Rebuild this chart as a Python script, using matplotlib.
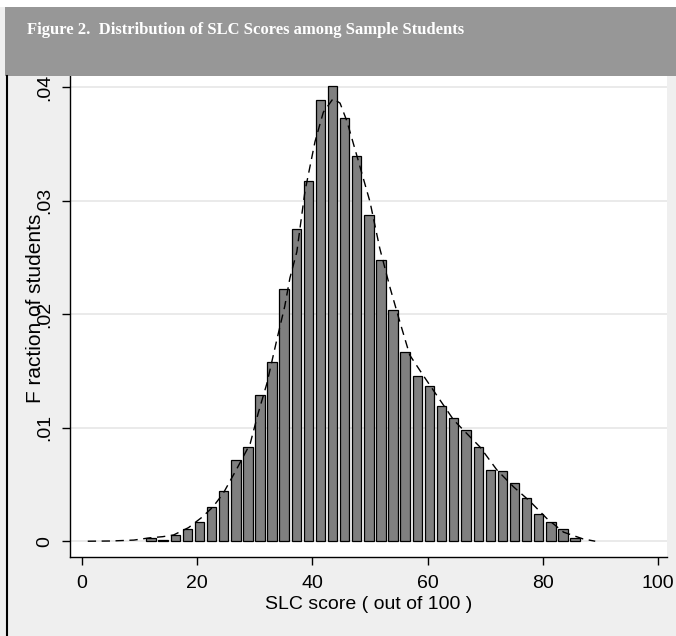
import numpy as np
import matplotlib
matplotlib.use("Agg")
import matplotlib.pyplot as plt
from matplotlib.patches import Rectangle
from matplotlib.lines import Line2D

# histogram bars (bin centre, fraction of students)
bin_centers = [12.0, 14.1, 16.2, 18.3, 20.4, 22.5, 24.6, 26.7, 28.8, 30.9,
               33.0, 35.1, 37.2, 39.3, 41.4, 43.5, 45.6, 47.7, 49.8, 51.9,
               54.0, 56.1, 58.2, 60.3, 62.4, 64.5, 66.7, 68.8, 70.9, 73.0,
               75.1, 77.2, 79.3, 81.4, 83.5, 85.6]
fractions = [0.0003, 0.0001, 0.00055, 0.0011, 0.0017, 0.0030, 0.0044, 0.0072, 0.0083, 0.0129,
             0.0158, 0.0222, 0.0275, 0.0317, 0.0389, 0.0401, 0.0373, 0.0339, 0.0287, 0.0248,
             0.0204, 0.0167, 0.0146, 0.0137, 0.0119, 0.0109, 0.0098, 0.0083, 0.0063, 0.0062,
             0.0051, 0.0038, 0.0024, 0.0017, 0.0011, 0.0003]

# dashed density curve
dens_x = [1, 5, 9, 11.8, 14, 15.9, 18.5, 20.8, 22.7, 24.5, 26.9, 29.2, 30.6, 32.1, 33.8,
          35.2, 36.1, 37.3, 38.7, 40.45, 41.9, 43.6, 44.8, 46.0, 47.7, 50.0, 51.7, 53.5,
          55.2, 56.9, 59.25, 61.8, 64.5, 66.2, 69.1, 72.0, 74.9, 77.8, 80.7, 83.6, 87.0, 89.1]
dens_y = [0, 0.00002, 0.0001, 0.0003, 0.0004, 0.00055, 0.0012, 0.0021, 0.0030, 0.0042,
          0.0064, 0.0086, 0.0113, 0.0139, 0.0177, 0.0207, 0.0232, 0.0255, 0.0308, 0.0352,
          0.0378, 0.0390, 0.0386, 0.0370, 0.0340, 0.0299, 0.0258, 0.0223, 0.0193, 0.0164,
          0.0146, 0.0127, 0.0107, 0.0098, 0.0083, 0.0063, 0.0048, 0.0035, 0.0020, 0.0008,
          0.0002, 0.0]

x_ticks = [0, 20, 40, 60, 80, 100]
y_ticks = [0, 0.01, 0.02, 0.03, 0.04]
y_ticklabels = ["0", ".01", ".02", ".03", ".04"]
title = "Figure 2.  Distribution of SLC Scores among Sample Students"

W, H = 676, 636
fnt = ["Liberation Sans", "DejaVu Sans"]

fig = plt.figure(figsize=(W / 100, H / 100), dpi=100, facecolor="#efefef")

def px(x, y, w, h):
    # pixel box (top-left origin) -> figure fraction
    return [x / W, 1 - (y + h) / H, w / W, h / H]

ax = fig.add_axes(px(70, 60, 597, 497))
ax.set_facecolor("white")

for yt in y_ticks:
    ax.axhline(yt, color="#e6e6e6", lw=1.2, zorder=0)

ax.bar(bin_centers, fractions, width=1.64, color="#808080", edgecolor="black",
       linewidth=0.9, zorder=2)
ax.plot(dens_x, dens_y, color="black", lw=1.0, dashes=(6, 4), zorder=3)

ax.set_xlim(-2.08, 101.56)
ax.set_ylim(-0.00139, 0.0424)
ax.set_xticks(x_ticks)
ax.set_yticks(y_ticks)
ax.set_yticklabels(y_ticklabels)
for s in ["top", "right"]:
    ax.spines[s].set_visible(False)
for s in ["left", "bottom"]:
    ax.spines[s].set_linewidth(1.0)
ax.tick_params(axis="both", length=6, width=1.0, labelsize=14)
ax.tick_params(axis="x", pad=7)
ax.tick_params(axis="y", pad=6)
for lab in ax.get_yticklabels():
    lab.set_rotation(90)
    lab.set_va("center")
for lab in ax.get_xticklabels() + ax.get_yticklabels():
    lab.set_family(fnt)

ax.set_xlabel("SLC score ( out of 100 )", family=fnt, fontsize=14, labelpad=3)
ax.set_ylabel("F raction of students", family=fnt, fontsize=15, va="center")
ax.yaxis.set_label_coords(-0.0586, 0.501)

# header band and frame
fig.add_artist(Rectangle((0, 1 - 7 / H), 1, 7 / H, transform=fig.transFigure,
                         facecolor="white", edgecolor="none", zorder=5))
fig.add_artist(Rectangle((5 / W, 1 - 76 / H), 1, 69 / H, transform=fig.transFigure,
                         facecolor="#979797", edgecolor="none", zorder=5))
fig.add_artist(Line2D([7 / W, 7 / W], [0, 1 - 76 / H], transform=fig.transFigure,
                      color="black", lw=1.5, zorder=5))
fig.text(27 / W, 1 - 34 / H, title, family=["Liberation Serif", "DejaVu Serif"],
         fontweight="bold", fontsize=12, color="white", va="baseline", zorder=6)

fig.savefig("out.png", dpi=100, facecolor=fig.get_facecolor())
